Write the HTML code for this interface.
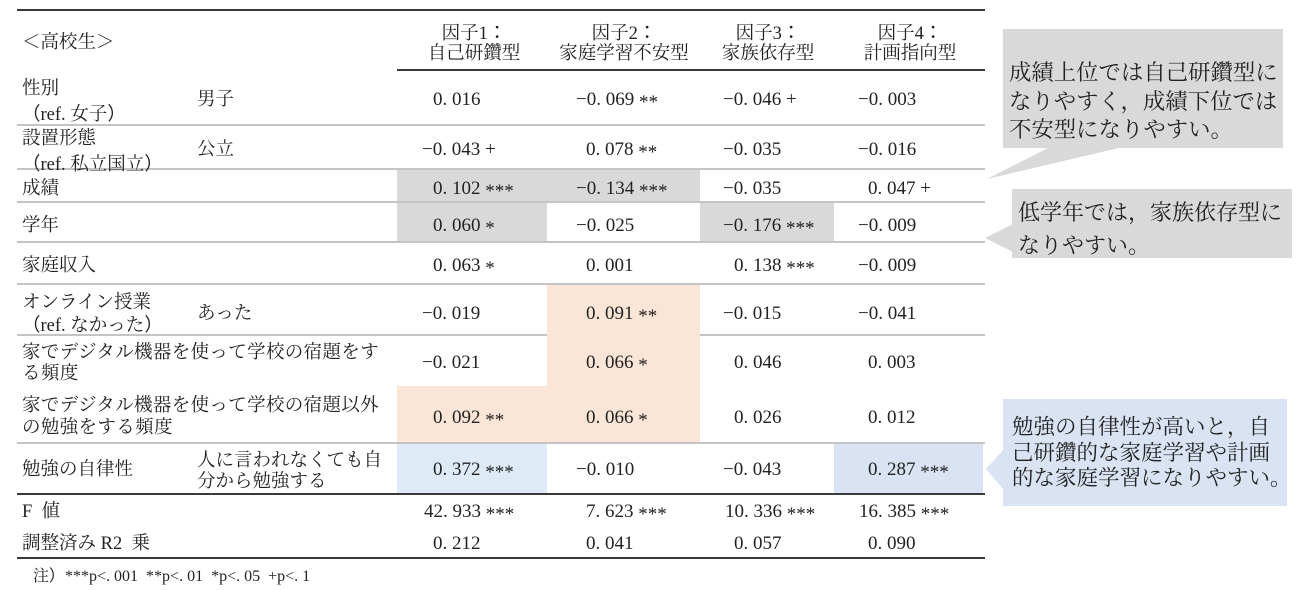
<!DOCTYPE html>
<html lang="ja">
<head>
<meta charset="utf-8">
<style>
  html, body { margin:0; padding:0; }
  body { width:1298px; height:590px; position:relative; overflow:hidden; background:#ffffff;
         font-family:"Liberation Serif","Noto Serif CJK SC",serif; color:#222; }
  .a { position:absolute; }
  .t { position:absolute; font-size:18.5px; line-height:22px; white-space:nowrap; }
  .v { position:absolute; font-size:19px; line-height:22px; white-space:nowrap; margin-top:1px; }
  .s { position:relative; top:3px; }
  .jp { font-family:"Noto Sans CJK JP",sans-serif; }
  .hd { position:absolute; font-size:18.5px; line-height:22px; white-space:nowrap; text-align:center; width:200px; }
  .dk { position:absolute; height:2px; background:#3a3a3a; }
  .lt { position:absolute; height:2px; background:#c4c4c4; }
  .gray { position:absolute; background:#d9d9d9; }
  .org { position:absolute; background:#fbe5d6; }
  .blu1 { position:absolute; background:#deebf7; }
  .blu2 { position:absolute; background:#dae3f3; }
  .box { position:absolute; white-space:nowrap; }
</style>
</head>
<body>

<!-- cell shading -->
<div class="gray" style="left:397px;top:170px;width:150px;height:31px;"></div>
<div class="gray" style="left:547px;top:170px;width:153px;height:31px;"></div>
<div class="gray" style="left:397px;top:203px;width:150px;height:38px;"></div>
<div class="gray" style="left:700px;top:203px;width:134px;height:38px;"></div>

<div class="lt" style="left:17px;top:124px;width:968px;"></div>
<div class="lt" style="left:17px;top:168px;width:968px;"></div>
<div class="lt" style="left:17px;top:201px;width:968px;"></div>
<div class="lt" style="left:17px;top:241px;width:968px;"></div>
<div class="lt" style="left:17px;top:283px;width:968px;"></div>
<div class="lt" style="left:17px;top:334px;width:968px;"></div>
<div class="lt" style="left:17px;top:442px;width:968px;"></div>

<div class="org" style="left:547px;top:285px;width:153px;height:157px;"></div>
<div class="org" style="left:397px;top:386px;width:150px;height:56px;"></div>
<div class="blu1" style="left:397px;top:444px;width:150px;height:49px;"></div>
<div class="blu2" style="left:834px;top:444px;width:149px;height:49px;"></div>

<!-- dark rules -->
<div class="dk" style="left:17px;top:9px;width:968px;"></div>
<div class="dk" style="left:397px;top:69px;width:588px;"></div>
<div class="dk" style="left:17px;top:493px;width:968px;"></div>
<div class="dk" style="left:17px;top:557px;width:968px;"></div>

<!-- header -->
<div class="t" style="left:22px;top:32px;">＜高校生＞</div>
<div class="hd" style="left:374px;top:21px;">因子1<span class="jp">：</span></div>
<div class="hd" style="left:374px;top:43px;">自己研鑽型</div>
<div class="hd" style="left:524px;top:21px;">因子2<span class="jp">：</span></div>
<div class="hd" style="left:524px;top:43px;">家庭学習不安型</div>
<div class="hd" style="left:668px;top:21px;">因子3<span class="jp">：</span></div>
<div class="hd" style="left:668px;top:43px;">家族依存型</div>
<div class="hd" style="left:810px;top:21px;">因子4<span class="jp">：</span></div>
<div class="hd" style="left:810px;top:43px;">計画指向型</div>

<!-- row labels -->
<div class="t" style="left:22px;top:78px;">性別</div>
<div class="t" style="left:22px;top:102px;"><span class="jp">（</span>ref. 女子<span class="jp">）</span></div>
<div class="t" style="left:197px;top:89px;">男子</div>

<div class="t" style="left:22px;top:128px;">設置形態</div>
<div class="t" style="left:22px;top:152px;"><span class="jp">（</span>ref. 私立国立<span class="jp">）</span></div>
<div class="t" style="left:197px;top:139px;">公立</div>

<div class="t" style="left:22px;top:178px;">成績</div>
<div class="t" style="left:22px;top:215px;">学年</div>
<div class="t" style="left:22px;top:255px;">家庭収入</div>

<div class="t" style="left:22px;top:292px;">オンライン授業</div>
<div class="t" style="left:22px;top:313px;"><span class="jp">（</span>ref. なかった<span class="jp">）</span></div>
<div class="t" style="left:197px;top:303px;">あった</div>

<div class="t" style="left:22px;top:342px;letter-spacing:0.35px;">家でデジタル機器を使って学校の宿題をす</div>
<div class="t" style="left:22px;top:363px;letter-spacing:0.35px;">る頻度</div>

<div class="t" style="left:22px;top:395px;letter-spacing:0.35px;">家でデジタル機器を使って学校の宿題以外</div>
<div class="t" style="left:22px;top:417px;letter-spacing:0.35px;">の勉強をする頻度</div>

<div class="t" style="left:22px;top:459px;">勉強の自律性</div>
<div class="t" style="left:197px;top:450px;">人に言われなくても自</div>
<div class="t" style="left:197px;top:471px;">分から勉強する</div>

<div class="t" style="left:22px;top:501px;">F&nbsp;&nbsp;値</div>
<div class="t" style="left:22px;top:533px;">調整済み R2&nbsp;&nbsp;乗</div>

<div class="a" style="left:33px;top:564px;font-size:16px;line-height:20px;white-space:nowrap;">注<span class="jp">）</span>***p&lt;. 001&nbsp;&nbsp;**p&lt;. 01&nbsp;&nbsp;*p&lt;. 05&nbsp;&nbsp;+p&lt;. 1</div>

<!-- values row 1 (cy 99) -->
<div class="v" style="left:433px;top:88px;">0. 016</div>
<div class="v" style="left:576px;top:88px;">−0. 069 <span class="s">**</span></div>
<div class="v" style="left:723px;top:88px;">−0. 046 +</div>
<div class="v" style="left:858px;top:88px;">−0. 003</div>
<!-- row 2 (149) -->
<div class="v" style="left:422px;top:138px;">−0. 043 +</div>
<div class="v" style="left:586px;top:138px;">0. 078 <span class="s">**</span></div>
<div class="v" style="left:723px;top:138px;">−0. 035</div>
<div class="v" style="left:858px;top:138px;">−0. 016</div>
<!-- row 3 (188) -->
<div class="v" style="left:433px;top:177px;">0. 102 <span class="s">***</span></div>
<div class="v" style="left:576px;top:177px;">−0. 134 <span class="s">***</span></div>
<div class="v" style="left:723px;top:177px;">−0. 035</div>
<div class="v" style="left:868px;top:177px;">0. 047 +</div>
<!-- row 4 (225) -->
<div class="v" style="left:433px;top:214px;">0. 060 <span class="s">*</span></div>
<div class="v" style="left:576px;top:214px;">−0. 025</div>
<div class="v" style="left:723px;top:214px;">−0. 176 <span class="s">***</span></div>
<div class="v" style="left:858px;top:214px;">−0. 009</div>
<!-- row 5 (265) -->
<div class="v" style="left:433px;top:254px;">0. 063 <span class="s">*</span></div>
<div class="v" style="left:586px;top:254px;">0. 001</div>
<div class="v" style="left:734px;top:254px;">0. 138 <span class="s">***</span></div>
<div class="v" style="left:858px;top:254px;">−0. 009</div>
<!-- row 6 (313) -->
<div class="v" style="left:422px;top:302px;">−0. 019</div>
<div class="v" style="left:586px;top:302px;">0. 091 <span class="s">**</span></div>
<div class="v" style="left:723px;top:302px;">−0. 015</div>
<div class="v" style="left:858px;top:302px;">−0. 041</div>
<!-- row 7 (362) -->
<div class="v" style="left:422px;top:351px;">−0. 021</div>
<div class="v" style="left:586px;top:351px;">0. 066 <span class="s">*</span></div>
<div class="v" style="left:734px;top:351px;">0. 046</div>
<div class="v" style="left:868px;top:351px;">0. 003</div>
<!-- row 8 (417) -->
<div class="v" style="left:433px;top:406px;">0. 092 <span class="s">**</span></div>
<div class="v" style="left:586px;top:406px;">0. 066 <span class="s">*</span></div>
<div class="v" style="left:734px;top:406px;">0. 026</div>
<div class="v" style="left:868px;top:406px;">0. 012</div>
<!-- row 9 (469) -->
<div class="v" style="left:433px;top:458px;">0. 372 <span class="s">***</span></div>
<div class="v" style="left:576px;top:458px;">−0. 010</div>
<div class="v" style="left:723px;top:458px;">−0. 043</div>
<div class="v" style="left:868px;top:458px;">0. 287 <span class="s">***</span></div>
<!-- F (511) -->
<div class="v" style="left:424px;top:500px;">42. 933 <span class="s">***</span></div>
<div class="v" style="left:586px;top:500px;">7. 623 <span class="s">***</span></div>
<div class="v" style="left:725px;top:500px;">10. 336 <span class="s">***</span></div>
<div class="v" style="left:859px;top:500px;">16. 385 <span class="s">***</span></div>
<!-- R2 (543) -->
<div class="v" style="left:433px;top:532px;">0. 212</div>
<div class="v" style="left:586px;top:532px;">0. 041</div>
<div class="v" style="left:734px;top:532px;">0. 057</div>
<div class="v" style="left:868px;top:532px;">0. 090</div>

<!-- callouts -->
<svg class="a" style="left:0;top:0;" width="1298" height="590" viewBox="0 0 1298 590">
  <rect x="1003" y="29" width="280" height="119" fill="#d9d9d9"/>
  <polygon points="1050,147 987,179 1123,147" fill="#d9d9d9"/>
  <rect x="1012" y="189" width="280" height="69" fill="#d9d9d9"/>
  <polygon points="1013,224 985,238 1013,252" fill="#d9d9d9"/>
  <rect x="1003" y="399" width="284" height="107" fill="#dae3f3"/>
  <polygon points="1004,449 986,469 1004,490" fill="#dae3f3"/>
</svg>

<div class="box" style="left:1009px;top:59px;font-size:22.4px;line-height:28.5px;">成績上位では自己研鑽型に<br>なりやすく，成績下位では<br>不安型になりやすい。</div>
<div class="box" style="left:1018px;top:196px;font-size:22px;line-height:33px;">低学年では，家族依存型に<br>なりやすい。</div>
<div class="box" style="left:1012px;top:415px;font-size:21.5px;line-height:25.7px;">勉強の自律性が高いと，自<br>己研鑽的な家庭学習や計画<br>的な家庭学習になりやすい。</div>

</body>
</html>
